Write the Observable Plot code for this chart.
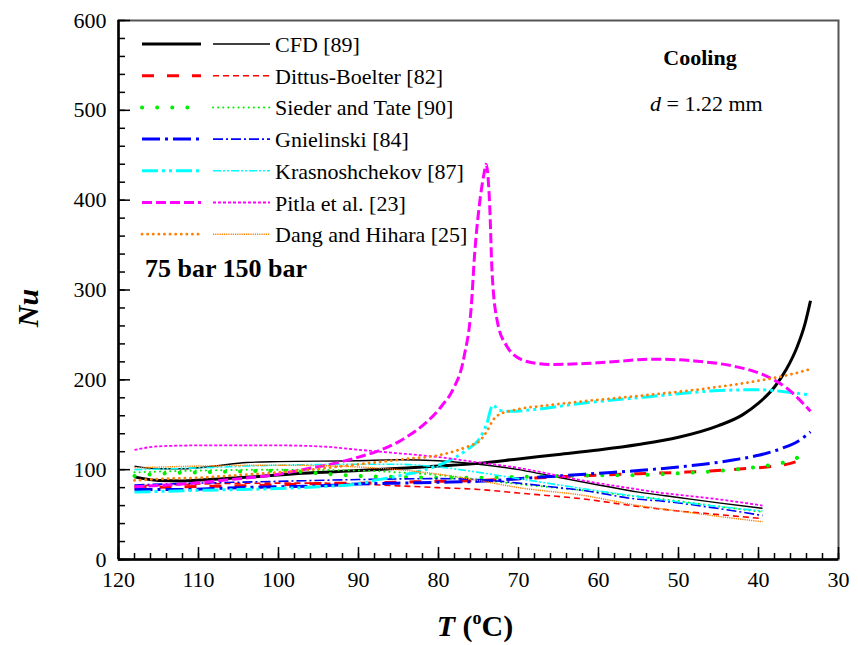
<!DOCTYPE html>
<html><head><meta charset="utf-8">
<script src="https://cdn.jsdelivr.net/npm/d3@7"></script>
<script src="https://cdn.jsdelivr.net/npm/@observablehq/plot@0.6"></script>
<style>
body{margin:0;background:#fff;}
#wrap{position:relative;width:858px;height:645px;font-family:"Liberation Serif","Times New Roman",serif;color:#000;}
</style></head><body><div id="wrap"></div>
<script>
// ---- data: [T (°C), Nu] ----
const cfd75 = [[118,92],[115,88],[112,87.5],[107,90],[103,92],[97,96],[90,99],[86,101],[80,104],[75,107],[70,112],[65,117],[60,122],[55,128],[50,136],[45,149],[42,161],[40,174],[38,192],[36.5,212],[35.2,236],[34.2,262],[33.5,288]];
const cfd150 = [[118,104],[115,101],[112,101],[108,104],[104,108],[100,109],[90,110],[85,111],[80,110],[75,106],[70,100],[66.5,94],[60,83],[55,75],[50,69],[45,63],[39.5,57]];
const dittus75 = [[118,80],[112,81],[105,82],[100,83],[95,84.5],[90,85],[85,86],[80,87],[75,88],[70,90],[65,92],[60,94],[55,95.5],[50,97],[46,98.5],[42,101],[38,104],[36,107],[34,113]];
const dittus150 = [[118,82],[110,84],[100,85],[95,85],[90,84],[85,82],[80,80],[75,78],[70,74],[62,67.5],[55,59],[50,54],[45,50],[39.5,45.5]];
const sieder75 = [[118,93],[114,96],[110,97],[105,98],[100,99],[95,96],[90,93],[85,92],[80,91],[75,91],[70,92],[62,93.5],[55,94],[50,96],[46,98],[42,101],[38,106],[36,110],[34,119]];
const sieder150 = [[118,97],[110,99],[100,100],[90,99],[85,97],[80,94],[75,89],[70,84],[62,77],[55,70],[50,65],[45,59],[39.5,53]];
const gniel75 = [[118,78],[112,78],[105,80],[100,81],[95,82],[90,84],[85,85],[80,86],[75,87],[70,90],[65,93],[60,96],[55,99],[50,103],[46,107],[43,111],[40,116],[37,124],[35,132],[33.5,142]];
const gniel150 = [[118,83],[110,85],[100,87],[90,89],[80,90],[75,89],[70,85],[65,80],[62,77],[55,67],[52,65],[46,58],[39.5,49]];
const kras75 = [[118,75],[110,77],[100,79],[95,81],[90,84],[88,88],[85,93],[82,99],[80,105],[78,113],[76.5,122],[75,133],[74,150],[73.2,172],[72.4,166],[71,165],[68,167],[62,174],[54,181],[45,188],[40,189],[36,186],[33.5,183]];
const kras150 = [[118,100],[110,102],[100,105],[90,106],[85,106],[80,103],[75,97],[70,90],[62,79],[55,70],[52,66.5],[46,60],[39.5,54]];
const pitla75 = [[118,81],[112,84],[106,89],[100,95],[97,100],[93,107],[90,114],[87.5,121],[85,131],[83.7,138],[81.6,152],[79.5,172],[78.2,189],[76.8,226],[75.9,282],[75.5,338],[74.9,394],[74.3,430],[74.05,440],[73.6,394],[73.3,319],[72.6,263],[71.5,238],[69.5,222],[67.4,218],[66,217],[60,219],[53,223],[48,221],[43,215],[39.5,206],[36.5,191],[33.5,165]];
const pitla150 = [[118,122],[115,126],[110,127],[100,127],[94,125.5],[91,123],[86,119],[80,114],[75,108],[70,102],[66.5,96],[62,88],[55,78],[52,74],[50,72],[45,67],[39.5,60]];
const dang75 = [[118,88],[114,90],[110,91],[105,94],[100,97],[96,100],[92,104],[88,108],[84,112],[80,116],[77.5,122],[76,127],[75,131],[74,142],[73.2,155],[72.5,161],[70.7,166],[66,172],[62,176],[54,183],[46,191],[40,199],[36,206],[33.5,212]];
const dang150 = [[118,102],[110,104],[100,105],[95,104.5],[90,103],[85,100],[80,95],[75,88],[70,80],[62,71.5],[55,60],[50,54],[45,48],[39.5,42]];

const legendLabels = ["CFD [89]","Dittus-Boelter [82]","Sieder and Tate [90]","Gnielinski [84]","Krasnoshchekov [87]","Pitla et al. [23]","Dang and Hihara [25]"];
const xTicks = [120,110,100,90,80,70,60,50,40,30];
const yTicks = [0,100,200,300,400,500,600];

// ---- styles (not data) ----
const series = [
  {label:legendLabels[0], d75:cfd75, d150:cfd150, color:"#000000",
   thick:{w:3, dash:null, cap:"butt"}, thin:{w:1.4, dash:null, cap:"butt"}},
  {label:legendLabels[1], d75:dittus75, d150:dittus150, color:"#ff0000",
   thick:{w:3, dash:"12,13", cap:"butt"}, thin:{w:1.6, dash:"6,4", cap:"butt"}},
  {label:legendLabels[2], d75:sieder75, d150:sieder150, color:"#00ee00",
   thick:{w:4, dash:"0.1,15", cap:"round"}, thin:{w:2, dash:"0.1,5", cap:"round"}},
  {label:legendLabels[3], d75:gniel75, d150:gniel150, color:"#0000ff",
   thick:{w:3, dash:"18,5,3,5", cap:"butt"}, thin:{w:1.6, dash:"10,3,2,3", cap:"butt"}},
  {label:legendLabels[4], d75:kras75, d150:kras150, color:"#00ffff",
   thick:{w:3, dash:"16,4,3,4,3,4", cap:"butt"}, thin:{w:1.6, dash:"8,2,2,2,2,2", cap:"butt"}},
  {label:legendLabels[5], d75:pitla75, d150:pitla150, color:"#ff00ff",
   thick:{w:3, dash:"10,4", cap:"butt"}, thin:{w:1.8, dash:"3,2", cap:"butt"}},
  {label:legendLabels[6], d75:dang75, d150:dang150, color:"#ff7f00",
   thick:{w:2.8, dash:"0.1,5.5", cap:"round"}, thin:{w:1.5, dash:"1.2,1", cap:"butt"}}
];

const toRows = arr => arr.map(([T, Nu]) => ({T, Nu}));
const lineMarks = [];
for (const s of series) {
  for (const [arr, st] of [[s.d150, s.thin], [s.d75, s.thick]]) {
    lineMarks.push(Plot.line(toRows(arr), {
      x: "T", y: "Nu", curve: "monotone-x",
      stroke: s.color, strokeWidth: st.w,
      strokeDasharray: st.dash || undefined, strokeLinecap: st.cap
    }));
  }
}

const FS = 22;
const chart = Plot.plot({
  width: 858, height: 645,
  marginLeft: 118, marginRight: 20, marginTop: 20, marginBottom: 86,
  x: {domain: [120, 30], label: null},
  y: {domain: [0, 600], label: null},
  style: {fontFamily: '"Liberation Serif","Times New Roman",serif', background: "white", color: "#000"},
  marks: [
    ...lineMarks,
    Plot.frame({stroke: "#555", strokeWidth: 2}),
    Plot.ruleX([120], {stroke: "#000", strokeWidth: 2.5}),
    Plot.ruleY([0], {stroke: "#000", strokeWidth: 2.5}),
    Plot.axisX({ticks: d3.range(30, 121, 2), tickSize: -6, tickFormat: () => "", strokeWidth: 1.5}),
    Plot.axisX({ticks: xTicks, tickSize: -12, tickFormat: () => "", strokeWidth: 1.5}),
    Plot.axisX({ticks: xTicks, tickSize: 0, tickPadding: 12, fontSize: FS, tickFormat: d => d}),
    Plot.axisY({ticks: d3.range(0, 601, 20), tickSize: -7, tickFormat: () => "", strokeWidth: 1.5}),
    Plot.axisY({ticks: yTicks, tickSize: -12, tickFormat: () => "", strokeWidth: 1.5}),
    Plot.axisY({ticks: yTicks, tickSize: 0, tickPadding: 12, fontSize: FS, tickFormat: d => d})
  ]
});

const wrap = document.getElementById("wrap");
wrap.appendChild(chart);

// ---- overlay: legend, annotations, axis titles ----
const NS = "http://www.w3.org/2000/svg";
const ov = document.createElementNS(NS, "svg");
ov.setAttribute("width", 858); ov.setAttribute("height", 645);
ov.setAttribute("style", "position:absolute;left:0;top:0;pointer-events:none;font-family:'Liberation Serif','Times New Roman',serif;");
wrap.appendChild(ov);
function el(tag, attrs, text) {
  const e = document.createElementNS(NS, tag);
  for (const k in attrs) e.setAttribute(k, attrs[k]);
  if (text != null) e.textContent = text;
  ov.appendChild(e);
  return e;
}
series.forEach((s, i) => {
  const cy = 44 + i * 31.7;
  for (const [x1, x2, st] of [[142, 201, s.thick], [213, 270, s.thin]]) {
    const a = {x1, x2, y1: cy, y2: cy, stroke: s.color, "stroke-width": st.w, "stroke-linecap": st.cap};
    if (st.dash) a["stroke-dasharray"] = st.dash;
    el("line", a);
  }
  el("text", {x: 275, y: cy + 8, "font-size": FS, fill: "#000"}, s.label);
});
el("text", {x: 145, y: 277, "font-size": 26, "font-weight": "bold", fill: "#000"}, "75 bar 150 bar");
el("text", {x: 700, y: 65, "font-size": FS, "font-weight": "bold", "text-anchor": "middle", fill: "#000"}, "Cooling");
const dt = el("text", {x: 650, y: 111, "font-size": FS, fill: "#000"});
dt.innerHTML = '<tspan font-style="italic">d</tspan> = 1.22 mm';
el("text", {x: 0, y: 0, "font-size": 30, "font-weight": "bold", "font-style": "italic", "text-anchor": "middle", transform: "translate(38,308) rotate(-90)", fill: "#000"}, "Nu");
const xl = el("text", {x: 475, y: 636, "font-size": 30, "font-weight": "bold", "text-anchor": "middle", fill: "#000"});
xl.innerHTML = '<tspan font-style="italic">T</tspan> (<tspan font-size="18" dy="-12">o</tspan><tspan dy="12">C)</tspan>';
</script></body></html>
